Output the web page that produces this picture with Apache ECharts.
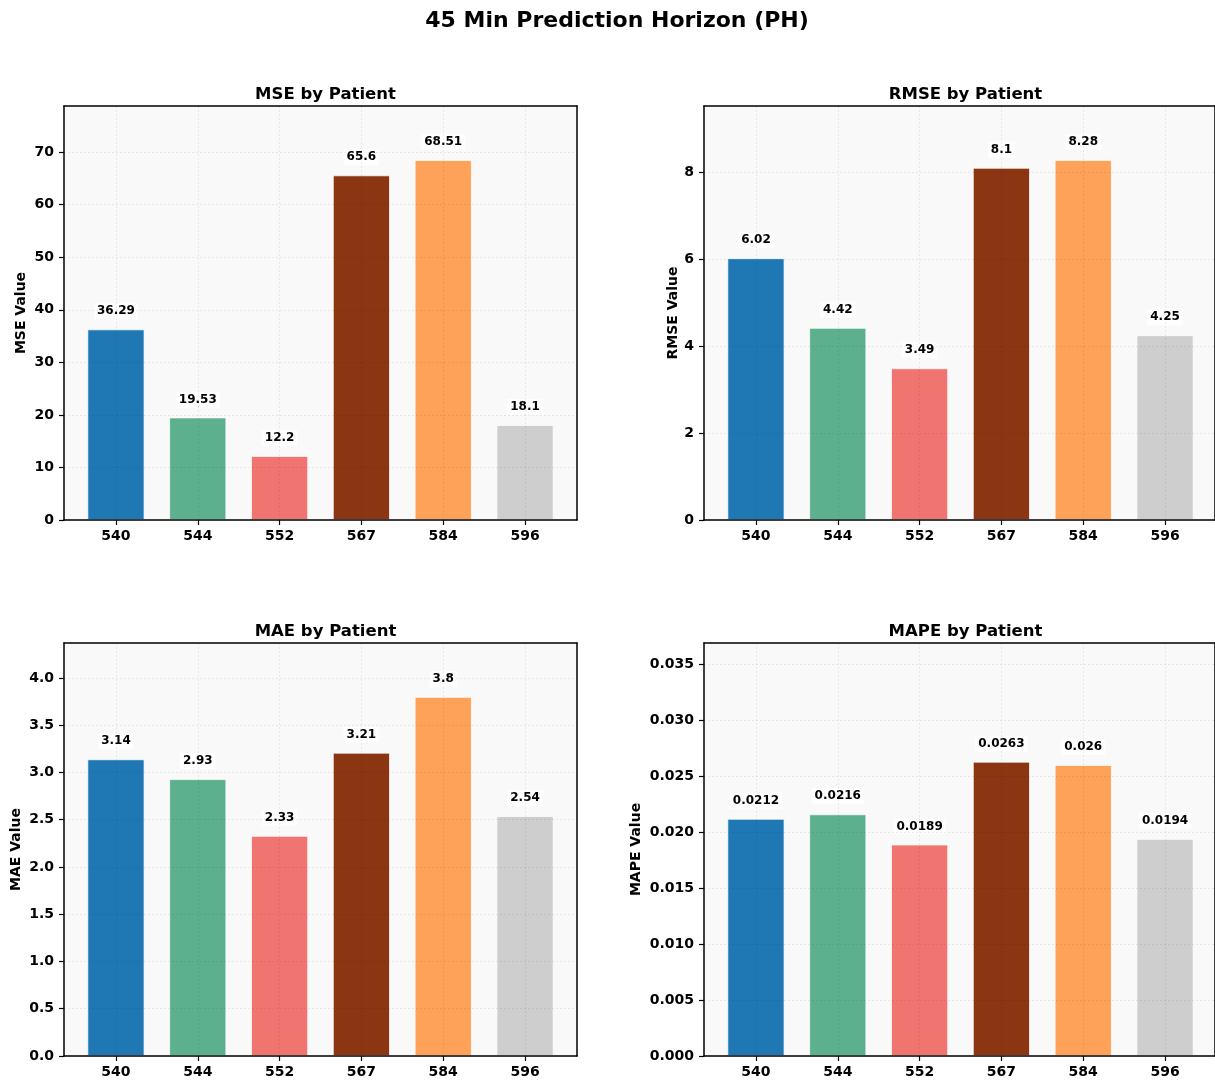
<!DOCTYPE html>
<html>
<head>
<meta charset="utf-8">
<script src="https://cdn.jsdelivr.net/npm/echarts@6/dist/echarts.min.js"></script>
<style>
  html, body { margin: 0; padding: 0; background: #ffffff; }
  #chart { width: 1215px; height: 1082px; }
</style>
</head>
<body>
<div id="chart"></div>
<script>
// Patients and per-patient error metrics for the 45 min prediction horizon
const patients = ['540', '544', '552', '567', '584', '596'];
const mseValues = [36.29, 19.53, 12.2, 65.6, 68.51, 18.1];
const rmseValues = [6.02, 4.42, 3.49, 8.1, 8.28, 4.25];
const maeValues = [3.14, 2.93, 2.33, 3.21, 3.8, 2.54];
const mapeValues = [0.0212, 0.0216, 0.0189, 0.0263, 0.026, 0.0194];

// Y tick values and axis tops for each metric
const mseTicks = [0, 10, 20, 30, 40, 50, 60, 70];
const rmseTicks = [0, 2, 4, 6, 8];
const maeTicks = [0, 0.5, 1.0, 1.5, 2.0, 2.5, 3.0, 3.5, 4.0];
const mapeTicks = [0, 0.005, 0.010, 0.015, 0.020, 0.025, 0.030, 0.035];
const mseTop = 78.79;
const rmseTop = 9.52;
const maeTop = 4.37;
const mapeTop = 0.0369;

const barColors = ['#1f77b4', '#5db08e', '#f07571', '#8b3512', '#ffa259', '#cecece'];

const FONT = '"DejaVu Sans", "Liberation Sans", sans-serif';

const panels = [
  { title: 'MSE by Patient', yName: 'MSE Value', values: mseValues, ticks: mseTicks, top: mseTop, step: 10, dec: 0, box: [64, 106, 513, 414], nameGap: 36 },
  { title: 'RMSE by Patient', yName: 'RMSE Value', values: rmseValues, ticks: rmseTicks, top: rmseTop, step: 2, dec: 0, box: [704, 106, 513, 414], nameGap: 23 },
  { title: 'MAE by Patient', yName: 'MAE Value', values: maeValues, ticks: maeTicks, top: maeTop, step: 0.5, dec: 1, box: [64, 643, 513, 413], nameGap: 41 },
  { title: 'MAPE by Patient', yName: 'MAPE Value', values: mapeValues, ticks: mapeTicks, top: mapeTop, step: 0.005, dec: 3, box: [704, 643, 513, 413], nameGap: 61 }
];

const grid = [], xAxis = [], yAxis = [], series = [];
const title = [{
  text: '45 Min Prediction Horizon (PH)',
  left: 612, top: 5, textAlign: 'center',
  textStyle: { fontFamily: FONT, fontSize: 22, fontWeight: 'bold', color: '#000' }
}];

const frameLine = { show: true, onZero: false, lineStyle: { color: '#000', width: 1.5 } };
const gridLine = { show: true, lineStyle: { color: 'rgba(0,0,0,0.07)', type: [2, 2], width: 1 } };

panels.forEach((p, i) => {
  const [left, top, w, h] = p.box;
  // categories sit on 0..5 with a margin of 0.635 units each side
  const unit = w / 6.27;
  const innerLeft = left + 0.635 * unit;
  const innerWidth = 5 * unit;

  title.push({
    text: p.title, left: left + w / 2, top: top - 25, textAlign: 'center',
    textStyle: { fontFamily: FONT, fontSize: 16.5, fontWeight: 'bold', color: '#000' }
  });

  const gOuter = grid.length;
  grid.push({ left: left, top: top, width: w, height: h, show: true, backgroundColor: '#f9f9f9', borderWidth: 0 });
  const gInner = grid.length;
  grid.push({ left: innerLeft, top: top, width: innerWidth, height: h });

  // frame: bottom and top edges
  xAxis.push({ gridIndex: gOuter, type: 'value', min: 0, max: 1, position: 'bottom', z: 4,
    axisLine: frameLine, axisTick: { show: false }, axisLabel: { show: false }, splitLine: { show: false } });
  xAxis.push({ gridIndex: gOuter, type: 'value', min: 0, max: 1, position: 'top', z: 4,
    axisLine: frameLine, axisTick: { show: false }, axisLabel: { show: false }, splitLine: { show: false } });
  const xInner = xAxis.length;
  xAxis.push({ gridIndex: gInner, type: 'category', data: patients, boundaryGap: false, z: 3,
    axisLine: { show: false },
    axisTick: { show: true, length: 5, lineStyle: { color: '#000', width: 1.2 } },
    axisLabel: { margin: 9, fontFamily: FONT, fontSize: 14, fontWeight: 'bold', color: '#000' },
    splitLine: gridLine });

  // left value axis with ticks, labels and horizontal grid; right edge of frame
  yAxis.push({ gridIndex: gOuter, type: 'value', min: 0, max: p.top, interval: p.step, z: 3,
    name: p.yName, nameLocation: 'middle', nameGap: p.nameGap, nameRotate: 90,
    nameTextStyle: { fontFamily: FONT, fontSize: 14, fontWeight: 'bold', color: '#000' },
    axisLine: frameLine,
    axisTick: { show: true, length: 5, customValues: p.ticks, lineStyle: { color: '#000', width: 1.2 } },
    axisLabel: { customValues: p.ticks, margin: 10, fontFamily: FONT, fontSize: 14, fontWeight: 'bold', color: '#000',
      formatter: v => Number(v).toFixed(p.dec) },
    splitLine: gridLine });
  yAxis.push({ gridIndex: gOuter, type: 'value', min: 0, max: 1, position: 'right', z: 4,
    axisLine: frameLine, axisTick: { show: false }, axisLabel: { show: false }, splitLine: { show: false } });
  const yInner = yAxis.length;
  yAxis.push({ gridIndex: gInner, type: 'value', min: 0, max: p.top, show: false });

  series.push({
    type: 'bar', xAxisIndex: xInner, yAxisIndex: yInner, z: 2,
    barWidth: 0.7 * unit,
    data: p.values.map((v, k) => ({ value: v, itemStyle: { color: barColors[k] } })),
    itemStyle: { borderColor: 'rgba(255,255,255,0.75)', borderWidth: 1 },
    label: {
      show: true, position: 'top', distance: 10,
      fontFamily: FONT, fontSize: 12, fontWeight: 'bold', color: '#000',
      backgroundColor: 'rgba(255,255,255,0.85)', padding: [2, 3],
      formatter: d => String(d.value)
    },
    emphasis: { disabled: true }
  });
});

const chart = echarts.init(document.getElementById('chart'), null, { renderer: 'canvas' });
chart.setOption({ animation: false, backgroundColor: '#ffffff', title, grid, xAxis, yAxis, series });
</script>
</body>
</html>
